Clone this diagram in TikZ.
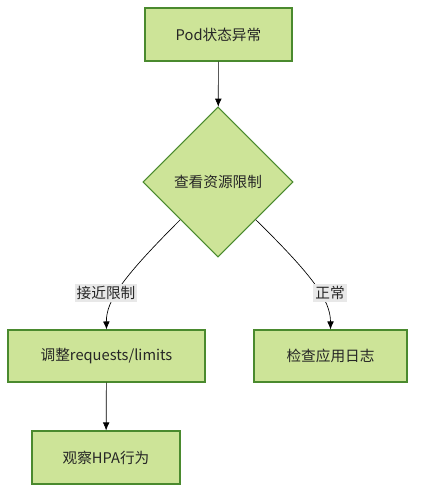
\documentclass[tikz,border=0pt]{standalone}
\usepackage{fontspec}
\setmainfont{Noto Sans CJK SC}
\usetikzlibrary{shapes.geometric,arrows.meta}
\definecolor{boxfill}{HTML}{CDE498}
\definecolor{boxline}{HTML}{4A8A2E}
\definecolor{lblbg}{HTML}{E8E8E8}
\tikzset{
  box/.style={draw=boxline, fill=boxfill, line width=0.8pt, rectangle, inner sep=0pt, font=\fontsize{11}{13}\selectfont, text=black!85},
  dia/.style={draw=boxline, fill=boxfill, line width=0.8pt, diamond, shape aspect=1, inner sep=0pt, minimum width=112.5pt, minimum height=112.5pt, font=\fontsize{11}{13}\selectfont, text=black!85},
  lbl/.style={fill=lblbg, inner sep=1.5pt, font=\fontsize{11}{13}\selectfont, text=black!85},
  conn/.style={draw=black, line width=0.5pt, -{Latex[length=6pt,width=5pt]}}
}
\begin{document}
\begin{tikzpicture}[x=0.75pt,y=-0.75pt]
\useasboundingbox (0,0) rectangle (423,502);
\node[box, minimum width=110.25pt, minimum height=39.75pt] (pod) at (218.5,34.5) {Pod状态异常};
\node[dia] (chk) at (218,182) {查看资源限制};
\node[box, minimum width=147.75pt, minimum height=39pt] (adj) at (106.5,356) {调整requests/limits};
\node[box, minimum width=114.75pt, minimum height=39pt] (log) at (330.5,356) {检查应用日志};
\node[box, minimum width=111pt, minimum height=39.75pt] (hpa) at (106,457.5) {观察HPA行为};
\draw[conn] (pod) -- (chk);
\draw[conn] (chk.225) .. controls (125,275) and (106,300) .. (adj.north);
\draw[conn] (chk.-45) .. controls (312,275) and (330.5,300) .. (log.north);
\draw[conn] (adj) -- (hpa);
\node[lbl] (l1) at (106,293) {接近限制};
\node[lbl] (l2) at (330,293) {正常};
\end{tikzpicture}
\end{document}
